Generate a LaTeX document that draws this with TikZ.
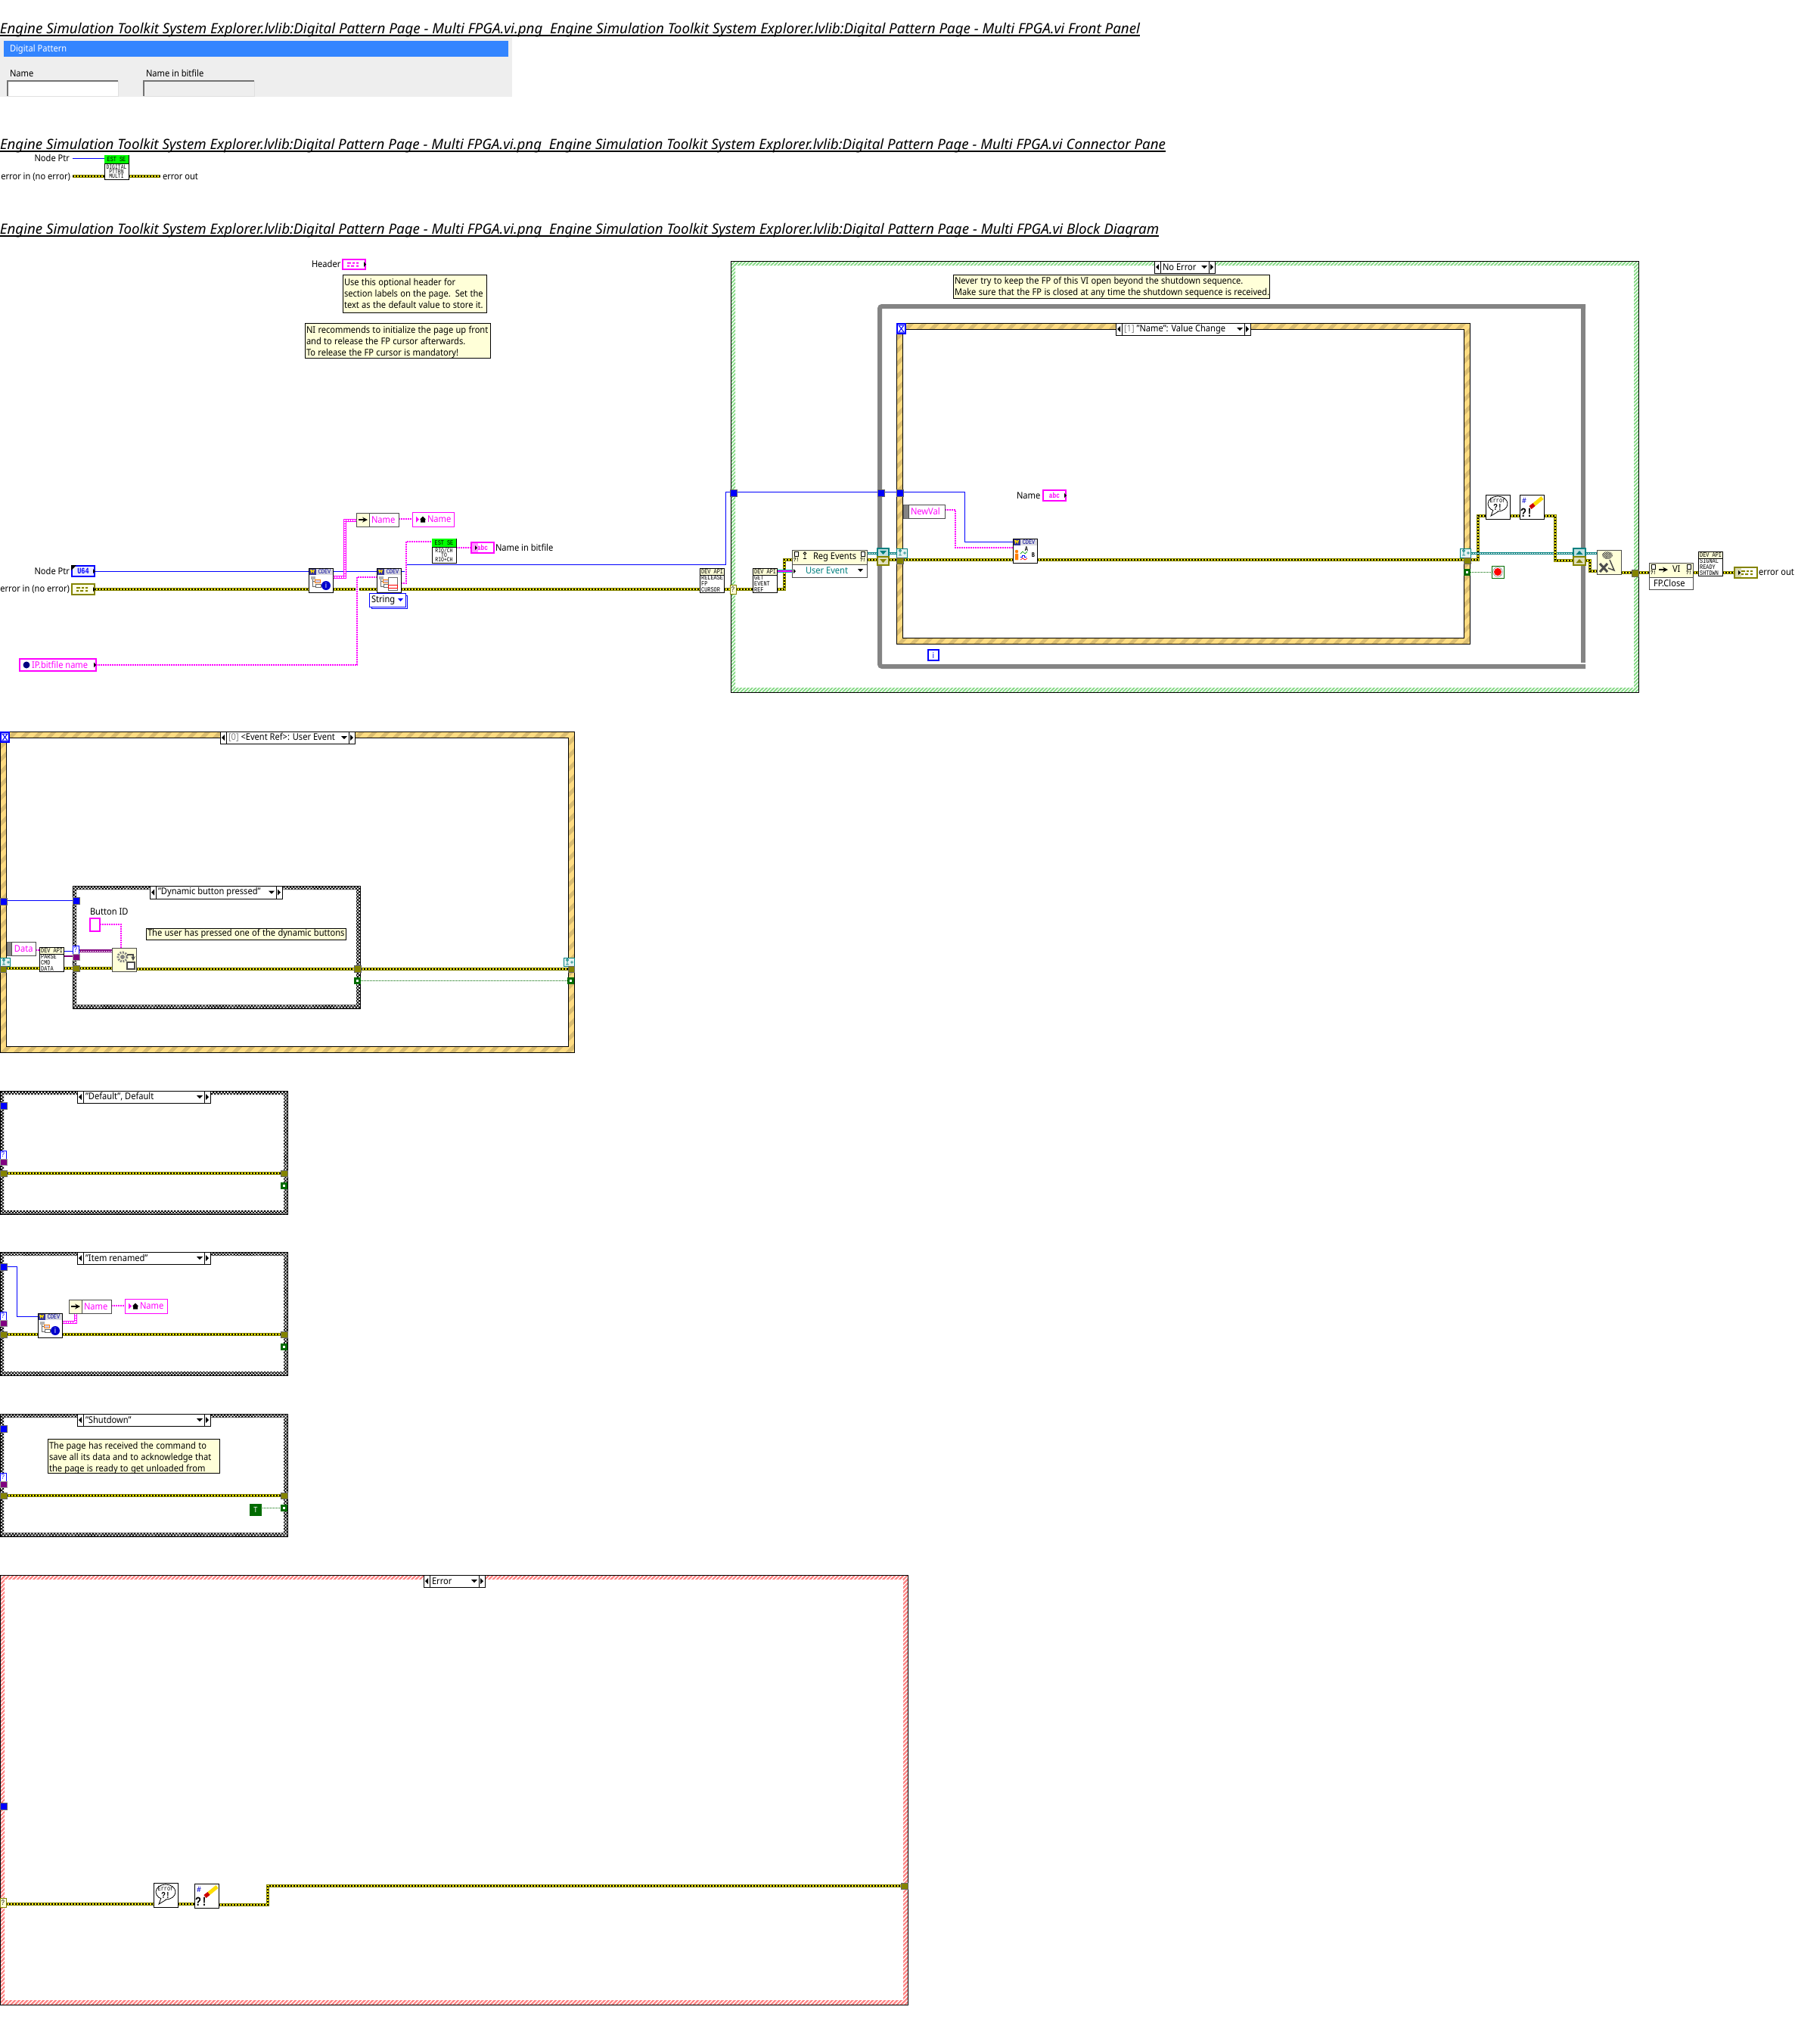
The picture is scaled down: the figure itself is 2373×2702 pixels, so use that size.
\documentclass[tikz,border=0pt]{standalone}
\usepackage{fontspec}
\setmainfont{Noto Sans}[FakeStretch=0.91]
\newfontfamily\ttlf{Noto Sans}
\newfontfamily\pix{Liberation Mono}[FakeStretch=0.78]
\usetikzlibrary{patterns.meta}
\pgfdeclarelayer{back}\pgfdeclarelayer{wires}\pgfsetlayers{back,wires,main}
\definecolor{mag}{HTML}{FF00FF}
\definecolor{oli}{HTML}{848400}
\definecolor{tealw}{HTML}{008080}
\definecolor{cream}{HTML}{FFFFD8}
\definecolor{evbase}{HTML}{FFDC82}
\definecolor{evdark}{HTML}{D9BC70}
\definecolor{grnd}{HTML}{80D880}
\definecolor{redd}{HTML}{FF8080}
\definecolor{gryl}{HTML}{848484}
\definecolor{boolg}{HTML}{006B00}
\definecolor{purp}{HTML}{800080}
\newcommand{\fs}{\fontsize{12.2}{15}\selectfont}
\newcommand{\px}{\pix\fontsize{8.8}{8}\selectfont}
\newcommand{\pxs}{\pix\fontsize{8.2}{6.1}\selectfont}
\newcommand{\cln}[1]{\mbox{\spaceskip=3.3pt\relax #1}}
\newcount\gn
\tikzset{
 boxbase/.style={inner sep=0,outer sep=0,line width=1pt,font=\fs},
 iconb/.style={draw=black,fill=white},
 lbl/.style={inner sep=0,outer sep=0,font=\fs,text=black},
 cmt/.style={draw=black,fill=cream,align=left,font=\fs,inner sep=0,inner xsep=2pt,text=black},
 errw/.style={line width=1.3pt,draw=black,dash pattern=on 2pt off 2pt,line join=miter,
   preaction={draw=oli,line width=3.6pt,solid},preaction={draw=yellow,line width=1.3pt,solid}},
 strw/.style={line width=1.3pt,draw=mag,dash pattern=on 2pt off 1pt},
 thkstr/.style={line width=1.3pt,draw=white,dash pattern=on 2pt off 1pt,preaction={draw=mag,line width=3.4pt,solid}},
 bluew/.style={line width=1pt,draw=blue},
 telw/.style={line width=1pt,draw=white,dash pattern=on 2pt off 1pt,preaction={draw=tealw,line width=3pt,solid}},
 purw/.style={line width=1pt,draw=white,dash pattern=on 2pt off 1pt,preaction={draw=purp,line width=3.4pt,solid}},
 purt/.style={line width=1.5pt,draw=purp},
 boolw/.style={line width=1pt,draw=boolg,dash pattern=on 1pt off 1pt},
 evpat/.style={pattern={Lines[angle=45,distance=12pt,line width=5pt]},pattern color=evdark},
 grpat/.style={pattern={Lines[angle=45,distance=3.4pt,line width=1.8pt]},pattern color=grnd},
 rdpat/.style={pattern={Lines[angle=45,distance=3.8pt,line width=2.2pt]},pattern color=redd},
 cspat/.style={pattern={Hatch[angle=45,distance=3pt,line width=.9pt]},pattern color=black},
 ttxt/.style={anchor=base west,inner sep=0,outer sep=0},
}
% [style]{name}{x1}{y1}{x2}{y2}{text}
\newcommand{\bx}[7][]{%
 \pgfmathsetmacro\bxw{(#5)-(#3)}\pgfmathsetmacro\bxh{(#6)-(#4)}%
 \node[boxbase,#1,minimum width=\bxw pt,minimum height=\bxh pt] (#2) at ({((#3)+(#5))/2},{((#4)+(#6))/2}) {#7};}
\newcommand{\tx}[5][]{\node[lbl,anchor=west,#1] (#2) at (#3,#4) {#5};}
\newcommand{\gl}[4]{\global\advance\gn by 1 \node[inner sep=0,outer sep=0,#3] (g\the\gn) at ({#1},{#2}) {#4};}
\newcommand{\sframe}[8]{%
 \begin{pgfonlayer}{back}
 \fill[#7,even odd rule] (#2,#3) rectangle (#4,#5) ({#2+#6},{#3+#6}) rectangle ({#4-#6},{#5-#6});
 \fill[#8,even odd rule] (#2,#3) rectangle (#4,#5) ({#2+#6},{#3+#6}) rectangle ({#4-#6},{#5-#6});
 \bx[draw=black,line width=1pt]{#1}{#2}{#3}{#4}{#5}{}
 \end{pgfonlayer}}
\newcommand{\innerb}[4]{\begin{pgfonlayer}{back}\draw[black,line width=1pt] (#1,#2) rectangle (#3,#4);\end{pgfonlayer}}
\newcommand{\hourg}[2]{\draw[blue,line width=1pt] (#1-3.5,#2-4.5) -- (#1+3.5,#2-4.5) -- (#1-3.5,#2+4.5) -- (#1+3.5,#2+4.5) -- cycle;}
\newcommand{\clg}[3]{\fill[#3] (#1-8,#2-3) rectangle ++(5,2) (#1-1,#2-3) rectangle ++(3,2) (#1+4,#2-3) rectangle ++(3,2) (#1-8,#2+1) rectangle ++(3,2) (#1-3,#2+1) rectangle ++(4,2) (#1+4,#2+1) rectangle ++(3,2);}
\newcommand{\triL}[2]{\fill[black] ({#1},{#2}) -- ++(4,-4) -- ++(0,8) -- cycle;}
\newcommand{\triR}[2]{\fill[black] ({#1},{#2}) -- ++(-4,-4) -- ++(0,8) -- cycle;}
\newcommand{\triD}[2]{\fill[black] ({#1},{#2}) -- ++(-4,-4) -- ++(8,0) -- cycle;}
% selector name x1 y1 x2 y2 text
\newcommand{\sel}[6]{%
 \bx[draw=black,fill=white]{#1}{#2}{#3}{#4}{#5}{}
 \draw[black,line width=1pt] ({#2+8},#3) -- ({#2+8},#5) ({#4-8},#3) -- ({#4-8},#5);
 \triL{#2+2}{(#3+#5)/2}\triR{#4-2}{(#3+#5)/2}\triD{#4-14}{(#3+#5)/2+2}
 \node[lbl,anchor=west] (#1t) at ({#2+11},{(#3+#5)/2}) {#6};}
% DEV API icon
\newcommand{\devapi}[5]{%
 \bx[iconb]{#1}{#2}{#3}{#2+32}{#3+32}{}
 \fill[cream] (#2+.5,#3+.5) rectangle ++(31,8);
 \draw[black,line width=.8pt] (#2,#3+9) -- ++(32,0);
 \node[inner sep=0,anchor=north west,align=left,font=\px] (#1t) at (#2+2,#3+1.5) {#4};}
% green EST SE icon
\newcommand{\estse}[5]{%
 \bx[iconb]{#1}{#2}{#3}{#2+32}{#3+32}{}
 \fill[green] (#2,#3) rectangle ++(32,11);
 \draw[black,line width=1pt] (#2,#3+11) -- ++(32,0);
 \node[inner sep=0,font=\px] (#1h) at (#2+16,#3+5.5) {EST SE};
 \node[inner sep=0,align=center,font=\pxs] (#1t) at (#2+16,#3+21.5) {#4};}
% CDEV icon head
\newcommand{\cdev}[3]{%
 \bx[iconb]{#1}{#2}{#3}{#2+32}{#3+32}{}
 \fill[blue!10!gray!25] (#2,#3) rectangle ++(32,9);
 \fill[blue!50!black!80] (#2,#3) rectangle ++(10,9);
 \fill[yellow!80!orange] (#2+2,#3+2) -- ++(1.5,5) -- ++(1.5,-3) -- ++(1.5,3) -- ++(1.5,-5) -- ++(-1.5,0) -- ++(-1,2) -- ++(-1,-2) -- cycle;
 \node[inner sep=0,font=\px,text=blue!60!black] (#1h) at (#2+21,#3+4.5) {CDEV};
 \draw[black,line width=1pt] (#2,#3) rectangle ++(32,32);}
\newcommand{\treeg}[2]{%
 \draw[black!60,line width=.8pt] (#1+5,#2+12) -- ++(0,12) -- ++(6,0) (#1+5,#2+17) -- ++(5,0);
 \fill[black!30] (#1+3,#2+11) rectangle ++(6,4);
 \draw[orange,line width=.8pt,fill=blue!20] (#1+8,#2+15) rectangle ++(7,4);
 \draw[black!60,line width=.8pt,fill=white] (#1+9,#2+21) rectangle ++(7,4);}
\newcommand{\infog}[2]{\fill[blue!80!black] (#1+23,#2+23) circle (6);\gl{#1+23}{#2+23}{font=\fontsize{10}{10}\selectfont\bfseries,text=white}{i}}
\newcommand{\errbub}[3]{%
 \bx[iconb]{#1}{#2}{#3}{#2+32}{#3+32}{}
 \draw[black,line width=.8pt] (#2+16,#3+12) ellipse (13 and 10);
 \draw[black,fill=white,line width=.8pt] (#2+10,#3+20) -- (#2+7,#3+28) -- (#2+17,#3+22);
 \gl{#2+16}{#3+8}{font=\px}{Error}
 \gl{#2+16}{#3+16}{font=\pix\fontsize{12}{12}\selectfont\bfseries}{?!}}
\newcommand{\clrerr}[3]{%
 \bx[iconb]{#1}{#2}{#3}{#2+32}{#3+32}{}
 \gl{#2+6}{#3+8}{font=\fontsize{10}{10}\selectfont\bfseries,text=blue!80!black}{\#}
 \gl{#2+9}{#3+24}{font=\pix\fontsize{17}{17}\selectfont\bfseries}{?!}
 \draw[yellow!80!orange,line width=5pt] (#2+19,#3+13) -- (#2+30,#3+4);
 \draw[red!80!black,line width=5pt] (#2+14,#3+17) -- (#2+19,#3+13);}
\newcommand{\propn}[7]{%
 \bx[draw=black!70,fill=white]{#1}{#2}{#3}{#4}{#5}{}
 \fill[cream] (#2+.5,#3+.5) rectangle (#6,#5-.5);
 \draw[black!70,line width=1pt] (#6,#3) -- (#6,#5);
 \draw[line width=2pt,-stealth] (#2+3,{(#3+#5)/2}) -- (#6-2,{(#3+#5)/2});
 \node[lbl,anchor=west,text=mag] (#1t) at (#6+3,{(#3+#5)/2}) {#7};}
\newcommand{\localv}[5]{%
 \bx[draw=mag,fill=white]{#1}{#2}{#3}{#4}{#5}{}
 \fill[mag] (#2+5,{(#3+#5)/2}) -- ++(4,0) -- ++(-4,-4) -- ++(0,8) -- ++(4,-4) -- cycle;
 \fill[black] (#2+11,{(#3+#5)/2+4}) -- ++(0,-4) -- ++(-1,0) -- ++(4,-4) -- ++(4,4) -- ++(-1,0) -- ++(0,4) -- cycle;
 \node[lbl,anchor=west,text=mag] (#1t) at (#2+20,{(#3+#5)/2}) {Name};}
\newcommand{\olt}[5]{\bx[fill=oli,draw=black!60]{#1}{#2}{#3}{#4}{#5}{}}
\newcommand{\blt}[3]{\bx[fill=blue,draw=black!60]{#1}{#2}{#3}{#2+9}{#3+9}{}}
\newcommand{\grt}[3]{\bx[fill=boolg,draw=none]{#1}{#2}{#3}{#2+9}{#3+9}{}\fill[white] (#2+3,#3+3) rectangle ++(3,3);}
\newcommand{\qsel}[5]{\bx[fill=cream,draw=oli]{#1}{#2}{#3}{#4}{#5}{\pix\fontsize{10}{10}\selectfont ?}}
\newcommand{\qblue}[3]{\bx[fill=white,draw=blue]{#1}{#2}{#3}{#2+8}{#3+11}{\pix\fontsize{10}{10}\selectfont\color{blue}?}}
\newcommand{\prt}[3]{\bx[fill=purp,draw=black!40]{#1}{#2}{#3}{#2+9}{#3+8}{}}
\newcommand{\evt}[5]{\bx[draw=tealw,fill=tealw!10]{#1}{#2}{#3}{#4}{#5}{}
 \draw[tealw,line width=.8pt] (#2+5,#3+3) circle (1.5) (#2+5,#3+5) -- ++(0,4) (#2+3,#3+9) -- ++(4,0) (#2+9,#3+6) -- ++(4,0) (#2+11,#3+4) -- ++(0,4);}
\newcommand{\shr}[7]{\bx[draw=#6,line width=2pt,fill=#6!25]{#1}{#2}{#3}{#4}{#5}{}
 \fill[#6] ({(#2+#4)/2-4.5},{(#3+#5)/2+#7*2.5}) -- ++(9,0) -- ++(-4.5,{-#7*5}) -- cycle;}
\newcommand{\doc}[2]{\draw[black,line width=.8pt,fill=white] (#1,#2) rectangle ++(5,6);
 \gl{#1+2.5}{#2+11}{font=\pix\fontsize{7.5}{7.5}\selectfont\bfseries}{?!}}
\begin{document}
\begin{tikzpicture}[x=1pt,y=-1pt]
\useasboundingbox (0,0) rectangle (2373,2702);
\begin{pgfonlayer}{back}
\fill[white] (0,0) rectangle (2373,2702);
\end{pgfonlayer}
% ---- titles
\node[ttxt] (t1) at (0,44) {\resizebox{1507pt}{!}{\ttlf\itshape Engine Simulation Toolkit System Explorer.lvlib:Digital Pattern Page - Multi FPGA.vi.png\ \ Engine Simulation Toolkit System Explorer.lvlib:Digital Pattern Page - Multi FPGA.vi Front Panel}};
\draw[black,line width=1.3pt] (t1.west|-0,47) -- (t1.east|-0,47);
\node[ttxt] (t2) at (0,197) {\resizebox{1541pt}{!}{\ttlf\itshape Engine Simulation Toolkit System Explorer.lvlib:Digital Pattern Page - Multi FPGA.vi.png\ \ Engine Simulation Toolkit System Explorer.lvlib:Digital Pattern Page - Multi FPGA.vi Connector Pane}};
\draw[black,line width=1.3pt] (t2.west|-0,200) -- (t2.east|-0,200);
\node[ttxt] (t3) at (0,309) {\resizebox{1532pt}{!}{\ttlf\itshape Engine Simulation Toolkit System Explorer.lvlib:Digital Pattern Page - Multi FPGA.vi.png\ \ Engine Simulation Toolkit System Explorer.lvlib:Digital Pattern Page - Multi FPGA.vi Block Diagram}};
\draw[black,line width=1.3pt] (t3.west|-0,312) -- (t3.east|-0,312);
% ---- front panel
\bx[fill=black!6.5]{fp}{0}{49}{677}{128}{}
\bx[fill=blue!60!cyan!80]{fpbar}{5}{54}{672}{75}{}
\tx[text=white]{fpt}{13}{65}{Digital Pattern}
\tx{fpn}{13}{97}{Name}
\tx{fpb}{193}{97}{Name in bitfile}
\bx[fill=white]{fpb1}{10}{107}{156}{127}{}
\bx[fill=black!6.5]{fpb2}{190}{107}{336}{127}{}
\draw[black!55,line width=1.3pt] (fpb1.south west) -- (fpb1.north west) -- (fpb1.north east);
\draw[black!55,line width=1.3pt] (fpb2.south west) -- (fpb2.north west) -- (fpb2.north east);
\draw[black!12,line width=1pt] (fpb1.south west) -- (fpb1.south east) -- (fpb1.north east);
\draw[black!12,line width=1pt] (fpb2.south west) -- (fpb2.south east) -- (fpb2.north east);
% ---- connector pane
\tx[anchor=east]{cpn}{92}{209}{Node Ptr}
\tx[anchor=east]{cpe}{93}{234}{error in (no error)}
\tx{cpo}{215}{234}{error out}
\estse{cpi}{138}{205}{DIGITAL\\PTTRN\\MULTI}{}
\begin{pgfonlayer}{wires}
\draw[bluew] (96,209) -- (cpi.west|-0,209);
\draw[errw] (96,233) -- (cpi.west|-0,233);
\draw[errw] (cpi.east|-0,233) -- (212,233);
\end{pgfonlayer}
% ---- comments and header
\tx{hl}{412}{349}{Header}
\bx[draw=mag,line width=2pt,fill=white]{ht}{453}{343}{483}{356}{}
\clg{467}{349.5}{mag}
\fill[black] (484,349.5) -- ++(-3,-3.5) -- ++(0,7) -- cycle;
\bx[cmt,text width=186pt]{c1}{453}{363}{643}{413}{\cln{Use this optional header for}\\\cln{section labels on the page. Set the}\\\cln{text as the default value to store it.}}
\bx[cmt,text width=241pt]{c2}{403}{428}{648}{473}{\cln{\rule{0pt}{12.3pt}NI recommends to initialize the page up front}\\\cln{and to release the FP cursor afterwards.}\\\cln{To release the FP cursor is mandatory!}}
% ---- left of main diagram
\tx[anchor=east]{nl}{92}{755}{Node Ptr}
\tx[anchor=east]{el}{92}{779}{error in (no error)}
\bx[draw=blue,line width=2pt,fill=blue!8]{nt}{95}{748}{125}{762}{\pix\bfseries\fontsize{11}{11}\selectfont\color{blue}U64}
\fill[black] (94,747) -- ++(7,0) -- ++(-7,7) -- cycle;
\fill[black] (126,755) -- ++(-3,-3) -- ++(0,6) -- cycle;
\bx[draw=oli,line width=2pt,fill=cream!60]{et}{95}{772}{125}{786}{}
\clg{109}{779}{oli}
\fill[black] (126,779) -- ++(-3,-3) -- ++(0,6) -- cycle;
\bx[draw=mag,line width=2pt,fill=white]{gb}{26}{871}{127}{887}{}
\fill[blue!50!black] (35,879) circle (4.5);
\tx[text=mag]{gbt}{42}{879}{IP.bitfile name}
\fill[black] (127,879) -- ++(-3,-3.5) -- ++(0,7) -- cycle;
\cdev{vi1}{408}{751}\treeg{408}{751}\infog{408}{751}
\cdev{vi2}{498}{751}\treeg{498}{751}
\draw[black!60,fill=white,line width=.6pt] (498+15,751+12) rectangle ++(12,17);
\draw[red,line width=1pt,fill=white] (498+15,751+22) rectangle ++(12,4);
\bx[draw=blue,fill=white]{str2}{491}{787}{538}{804}{}
\bx[draw=blue,fill=white]{str1}{488}{784}{536}{802}{}
\tx{strt}{491}{793}{String}
\fill[blue] (526,791) -- ++(7,0) -- ++(-3.5,4) -- cycle;
\propn{pn1}{471}{678}{527}{696}{488}{Name}
\localv{lv1}{545}{677}{600}{696}
\estse{rio}{571}{712}{RIO/CH\\TO\\RIO+CH}{}
\bx[draw=mag,line width=1.6pt,fill=white]{nbt}{623}{717}{653}{731}{\pix\bfseries\fontsize{10}{10}\selectfont\color{mag}abc}
\fill[mag!40] (624,718) rectangle ++(8,12);
\fill[black] (631,724) -- ++(-3,-3) -- ++(0,6) -- cycle;
\tx{nbl}{655}{724}{Name in bitfile}
\devapi{rel}{925}{751}{DEV API\\RELEASE\\FP\\CURSOR}{}
\begin{pgfonlayer}{wires}
\draw[errw] (et.east|-0,779) -- (vi1.west|-0,779);
\draw[errw] (vi1.east|-0,779) -- (470,779);
\draw[errw] (475,779) -- (vi2.west|-0,779);
\draw[errw] (vi2.east|-0,779) -- (rel.west|-0,779);
\draw[bluew] (nt.east|-0,755) -- (vi1.west|-0,755);
\draw[bluew] (vi1.east|-0,755) -- (vi2.west|-0,755);
\draw[strw] (gb.east|-0,879) -- (472,879) -- (472,763) -- (vi2.west|-0,763);
\draw[thkstr] (vi1.east|-0,763) -- (456,763) -- (456,688) -- (pn1.west|-0,688);
\draw[strw] (pn1.east|-0,686) -- (lv1.west|-0,686);
\draw[strw] (vi2.east|-0,771) -- (537,771) -- (537,716) -- (rio.west|-0,716);
\draw[strw] (rio.east|-0,724) -- (nbt.west|-0,724);
\end{pgfonlayer}
% ---- No Error frame
\sframe{fne}{966}{345}{2166}{915}{6}{white}{grpat}
\sel{sne}{1526}{345}{1606}{361}{No Error}
\bx[cmt,text width=414pt]{c3}{1260}{363}{1678}{394}{\cln{\rule{0pt}{12.3pt}Never try to keep the FP of this VI open beyond the shutdown sequence.}\\\cln{Make sure that the FP is closed at any time the shutdown sequence is received.}}
\begin{pgfonlayer}{back}
\draw[gryl,line width=6pt,rounded corners=3pt] (2096,881) -- (1163,881) -- (1163,405) -- (2096,405);
\draw[gryl,line width=6pt] (2093,402) -- (2093,875.5);
\end{pgfonlayer}
\sframe{fev}{1185}{427}{1943}{851}{8}{evbase}{evpat}
\innerb{1193}{435}{1935}{843}
\bx[draw=blue,line width=2pt,fill=white]{hg}{1186}{428}{1197}{441}{}
\hourg{1191.5}{434.5}
\sel{sev}{1475}{427}{1653}{443}{{\color{black!50}[1]} "Name": Value Change}
\bx[draw=blue,line width=2pt,fill=white]{li}{1227}{859}{1241}{873}{\fontsize{11}{11}\selectfont\bfseries\color{blue}i}
\blt{bt1}{965}{647}\blt{bt2}{1160}{647}\blt{bt3}{1185.5}{647}
\qsel{qs1}{965}{773}{973}{785}
\devapi{ger}{995}{751}{DEV API\\ GET\\ EVENT\\ REF}{}
% reg events
\bx[draw=black!70,fill=white]{reg}{1047}{727}{1146}{763}{}
\fill[cream] (1047.5,727.5) rectangle (1145.5,746);
\draw[black!70,line width=1pt] (1047,746) -- (1146,746);
\tx{regt}{1075}{736.5}{Reg Events}
\tx[text=tealw]{regu}{1065}{754.5}{User Event}
\doc{1050}{729}\doc{1138}{729}
\draw[black,line width=.9pt] (1064,731.5) circle (1.8) (1064,733.3) -- ++(0,5) (1062,738.5) -- ++(4,0);
\fill[black] (1134,752) -- ++(7,0) -- ++(-3.5,4) -- cycle;
\fill[black] (1049,752) -- ++(3,3) -- ++(-3,3) -- cycle;
\shr{srt1}{1160}{725}{1175}{736}{tealw}{-1}
\shr{sro1}{1160}{736}{1175}{747}{oli}{-1}
\evt{evt1}{1185}{725}{1199}{737}{}
\olt{et1}{1185.5}{737}{1194}{745}
\bx[fill=gryl,draw=black!60]{nv0}{1194}{667}{1201}{685}{}
\bx[draw=black!70,fill=white]{nv}{1201}{667}{1249}{685}{}
\tx[text=mag]{nvt}{1204}{676}{NewVal}
\cdev{vi3}{1339}{712}
\draw[orange,fill=orange] (1339+5,712+17) circle (2) (1339+3,712+20) rectangle ++(4,8);
\draw[green!60!black,line width=.7pt] (1339+10,712+20) -- ++(3,-3) -- ++(3,3) -- ++(3,-3);
\draw[blue,line width=.7pt] (1339+10,712+24) -- ++(2,0) -- ++(0,-2) -- ++(3,0) -- ++(0,2) -- ++(3,0);
\draw[red,line width=.7pt] (1339+10,712+28) -- ++(3,-2) -- ++(3,2) -- ++(3,-2);
\gl{1339+18}{712+14}{font=\px\bfseries}{A}\gl{1339+27}{712+22}{font=\px\bfseries}{B}
\tx{nml}{1344}{655}{Name}
\bx[draw=mag,line width=2pt,fill=white]{nmt}{1379}{648}{1409}{662}{\pix\bfseries\fontsize{10}{10}\selectfont\color{mag}abc}
\fill[black] (1410,655) -- ++(-3,-3) -- ++(0,6) -- cycle;
\evt{evt2}{1930}{725}{1944}{737}{}
\olt{et2}{1935.5}{737}{1944}{745}
\grt{gt1}{1935}{752}
\bx[draw=boolg,line width=1pt,fill=white]{stopb}{1972}{748}{1988}{764}{}
\fill[red] (1980,756) circle (5);\draw[black!60,line width=.5pt] (1980,756) circle (6.3);
\errbub{eb1}{1964}{654}\clrerr{ce1}{2009}{654}
\shr{srt2}{2080}{725}{2096}{736}{tealw}{1}
\shr{sro2}{2080}{736}{2096}{747}{oli}{1}
\bx[draw=black!70,fill=cream]{unr}{2111}{727}{2143}{759}{}
\fill[pattern={Hatch[angle=45,distance=2pt,line width=.6pt]},pattern color=black!70] (2125,734) ellipse (7 and 5);
\draw[black!70,line width=3pt] (2115,756) -- (2125,745) (2115,745) -- (2125,756);
\draw[black!70,line width=1.5pt] (2128,740) -- (2134,754) -- (2126,751);
\olt{ot1}{2157}{753}{2166}{762}
\bx[draw=black!70,fill=white]{fpc}{2180}{744}{2238}{779}{}
\fill[cream] (2180.5,744.5) rectangle (2237.5,763);
\draw[black!70,line width=1pt] (2180,763) -- (2238,763);
\tx{fpct}{2186}{771}{FP.Close}
\tx{fpcv}{2211}{752.5}{VI}
\doc{2183}{746}\doc{2230}{746}
\draw[line width=2pt,-stealth] (2193,753) -- (2205,753);
\devapi{sig}{2245}{729}{DEV API\\SIGNAL\\READY\\SHTDWN}{}
\bx[draw=oli,line width=1.6pt,fill=white]{eo}{2293}{750}{2323}{764}{}
\fill[oli!30] (2294,751) rectangle ++(8,12);
\clg{2310}{757}{oli}
\fill[black] (2301,757) -- ++(-3,-3) -- ++(0,6) -- cycle;
\tx{eol}{2325}{757}{error out}
\begin{pgfonlayer}{wires}
\draw[bluew] (vi2.east|-0,755) -- (535,755);
\draw[bluew] (538,746) -- (959,746) -- (959,650) -- (bt1.west|-0,650);
\draw[bluew] (bt1.east|-0,650) -- (bt2.west|-0,650);
\draw[bluew] (bt2.east|-0,650) -- (bt3.west|-0,650);
\draw[bluew] (bt3.east|-0,650) -- (1275,650) -- (1275,716) -- (vi3.west|-0,716);
\draw[errw] (rel.east|-0,779) -- (qs1.west|-0,779);
\draw[errw] (qs1.east|-0,779) -- (ger.west|-0,779);
\draw[errw] (ger.east|-0,779) -- (1037,779) -- (1037,740) -- (reg.west|-0,740);
\draw[line width=4pt,draw=tealw!60!cyan] (ger.east|-0,755) -- (reg.west|-0,755);
\draw[draw=mag,line width=1.5pt] (ger.east|-0,755) -- (reg.west|-0,755);
\draw[telw] (reg.east|-0,731) -- (srt1.west|-0,731);
\draw[errw] (reg.east|-0,740) -- (sro1.west|-0,740);
\draw[telw] (srt1.east|-0,731) -- (evt1.west|-0,731);
\draw[errw] (sro1.east|-0,740) -- (et1.west|-0,740);
\draw[errw] (et1.east|-0,740) -- (vi3.west|-0,740);
\draw[strw] (nv.east|-0,674) -- (1263,674) -- (1263,724) -- (vi3.west|-0,724);
\draw[errw] (vi3.east|-0,740) -- (et2.west|-0,740);
\draw[errw] (et2.east|-0,740) -- (1954,740) -- (1954,682) -- (eb1.west|-0,682);
\draw[errw] (eb1.east|-0,682) -- (ce1.west|-0,682);
\draw[errw] (ce1.east|-0,682) -- (2056,682) -- (2056,741) -- (sro2.west|-0,741);
\draw[telw] (evt2.east|-0,731) -- (2054,731);
\draw[telw] (2058,731) -- (srt2.west|-0,731);
\draw[telw] (srt2.east|-0,731) -- (unr.west|-0,731);
\draw[errw] (sro2.east|-0,741) -- (2102,741) -- (2102,755) -- (unr.west|-0,755);
\draw[errw] (unr.east|-0,757) -- (ot1.west|-0,757);
\draw[errw] (ot1.east|-0,757) -- (fpc.west|-0,757);
\draw[errw] (fpc.east|-0,757) -- (sig.west|-0,757);
\draw[errw] (sig.east|-0,757) -- (eo.west|-0,757);
\draw[boolw] (gt1.east|-0,756) -- (stopb.west|-0,756);
\end{pgfonlayer}
% ---- Event frame 2
\sframe{fe2}{0}{967}{759}{1391}{8}{evbase}{evpat}
\innerb{8}{975}{751}{1383}
\bx[draw=blue,line width=2pt,fill=white]{hg2}{1}{968}{12}{981}{}
\hourg{6.5}{974.5}
\sel{se2}{291}{967}{469}{983}{{\color{black!50}[0]} <Event Ref>: User Event}
\sframe{fc1}{96}{1171}{476}{1333}{5}{white}{cspat}
\sel{sc1}{198}{1171}{373}{1188}{"Dynamic button pressed"}
\blt{b21}{0}{1187}\blt{b22}{96}{1186}
\tx{bidl}{119}{1205}{Button ID}
\bx[draw=mag,line width=2.5pt,fill=white]{bid}{119}{1214}{132}{1231}{}
\bx[cmt,text width=260pt]{c4}{193}{1227}{457}{1242}{\cln{The user has pressed one of the dynamic buttons}}
\bx[draw=black!70,fill=cream]{gear}{148}{1253}{180}{1284}{}
\draw[black!50,line width=3pt,dash pattern=on 2pt off 1.5pt] (162,1265) circle (6);
\fill[black!50] (162,1265) circle (3);
\draw[black!70,line width=1.5pt,-stealth] (168,1262) -- (176,1262) -- (176,1270);
\draw[black!70,line width=1.5pt,fill=white] (168,1272) rectangle ++(10,9);
\bx[fill=gryl,draw=black!60]{dt0}{9}{1245}{15}{1263}{}
\bx[draw=black!70,fill=white]{dt}{15}{1245}{47}{1263}{}
\tx[text=mag]{dtt}{19}{1254}{Data}
\devapi{prs}{52}{1252}{DEV API\\ PARSE\\ CMD\\ DATA}{}
\qblue{q1}{96}{1250}\prt{p1}{96}{1261}
\olt{o21}{96}{1276}{105}{1284}
\olt{o22}{468}{1276}{477}{1285}
\grt{g21}{468}{1292}\grt{g22}{750}{1292}
\evt{ev3}{0}{1266}{13}{1277}{}\evt{ev4}{745}{1266}{759}{1277}{}
\olt{o23}{0}{1277}{8}{1285}\olt{o24}{751}{1277}{759}{1285}
\begin{pgfonlayer}{wires}
\draw[bluew] (b21.east|-0,1190) -- (b22.west|-0,1190);
\draw[strw] (bid.east|-0,1222) -- (160,1222) -- (160,1253);
\draw[strw] (dt.east|-0,1256) -- (prs.west|-0,1256);
\draw[bluew] (prs.east|-0,1257) -- (q1.west|-0,1257);
\draw[purt] (prs.east|-0,1264) -- (p1.west|-0,1264);
\draw[purw] (104,1257) -- (gear.west|-0,1257);
\draw[errw] (o23.east|-0,1280) -- (prs.west|-0,1280);
\draw[errw] (prs.east|-0,1280) -- (o21.west|-0,1280);
\draw[errw] (o21.east|-0,1280) -- (gear.west|-0,1280);
\draw[errw] (gear.east|-0,1281) -- (o22.west|-0,1281);
\draw[errw] (o22.east|-0,1281) -- (o24.west|-0,1281);
\draw[boolw] (g21.east|-0,1296) -- (g22.west|-0,1296);
\end{pgfonlayer}
% ---- Default case
\sframe{fc2}{0}{1442}{380}{1605}{5}{white}{cspat}
\sel{sc2}{102}{1442}{278}{1458}{"Default", Default}
\blt{a1}{0}{1457}\qblue{a2}{0}{1521}\prt{a3}{0}{1532}
\olt{a4}{0}{1547}{9}{1555}\olt{a5}{371}{1547}{380}{1555}\grt{a6}{371}{1563}
\begin{pgfonlayer}{wires}\draw[errw] (a4.east|-0,1551) -- (a5.west|-0,1551);\end{pgfonlayer}
% ---- Item renamed
\sframe{fc3}{0}{1655}{380}{1818}{5}{white}{cspat}
\sel{sc3}{102}{1655}{278}{1671}{"Item renamed"}
\blt{d1}{0}{1670}\qblue{d2}{0}{1734}\prt{d3}{0}{1745}
\olt{d4}{0}{1760}{9}{1768}\olt{d5}{371}{1760}{380}{1768}\grt{d6}{371}{1776}
\cdev{vi4}{50}{1736}\treeg{50}{1736}\infog{50}{1736}
\propn{pn2}{91}{1718}{147}{1736}{108}{Name}
\localv{lv2}{165}{1717}{221}{1736}
\begin{pgfonlayer}{wires}
\draw[bluew] (d1.east|-0,1674) -- (22,1674) -- (22,1740) -- (vi4.west|-0,1740);
\draw[thkstr] (vi4.east|-0,1748) -- (100,1748) -- (100,1736);
\draw[strw] (pn2.east|-0,1726) -- (lv2.west|-0,1726);
\draw[errw] (d4.east|-0,1764) -- (vi4.west|-0,1764);
\draw[errw] (vi4.east|-0,1764) -- (d5.west|-0,1764);
\end{pgfonlayer}
% ---- Shutdown
\sframe{fc4}{0}{1869}{380}{2031}{5}{white}{cspat}
\sel{sc4}{102}{1869}{278}{1885}{"Shutdown"}
\blt{s1}{0}{1884}\qblue{s2}{0}{1947}\prt{s3}{0}{1958}
\olt{s4}{0}{1973}{9}{1981}\olt{s5}{371}{1973}{380}{1981}\grt{s6}{371}{1989}
\bx[cmt,text width=223pt]{c5}{63}{1903}{290}{1947}{\cln{\rule{0pt}{13pt}The page has received the command to}\\\cln{save all its data and to acknowledge that}\\\cln{the page is ready to get unloaded from}}
\bx[draw=boolg,line width=2pt,fill=boolg]{tc}{331}{1989}{345}{2003}{\fontsize{10}{10}\selectfont\bfseries\color{white}T}
\begin{pgfonlayer}{wires}
\draw[errw] (s4.east|-0,1977) -- (s5.west|-0,1977);
\draw[boolw] (tc.east|-0,1993) -- (s6.west|-0,1993);
\end{pgfonlayer}
% ---- Error frame
\sframe{fer}{0}{2082}{1200}{2650}{6}{white}{rdpat}
\sel{ser}{560}{2082}{641}{2098}{Error}
\blt{e1}{0}{2383}
\qsel{e2}{0}{2509}{8}{2521}
\errbub{eb2}{203}{2489}\clrerr{ce2}{257}{2490}
\olt{e3}{1191}{2489}{1200}{2497}
\begin{pgfonlayer}{wires}
\draw[errw] (e2.east|-0,2517) -- (eb2.west|-0,2517);
\draw[errw] (eb2.east|-0,2517) -- (ce2.west|-0,2517);
\draw[errw] (ce2.east|-0,2518) -- (354,2518) -- (354,2493) -- (e3.west|-0,2493);
\end{pgfonlayer}
\end{tikzpicture}
\end{document}
